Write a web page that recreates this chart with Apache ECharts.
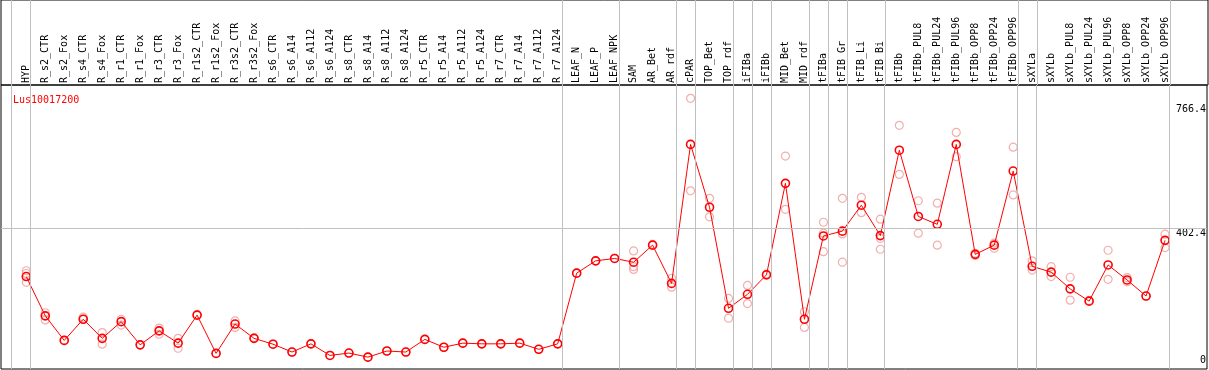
<!DOCTYPE html>
<html>
<head>
<meta charset="utf-8">
<script src="https://cdn.jsdelivr.net/npm/echarts@6/dist/echarts.min.js"></script>
<style>
html,body{margin:0;padding:0;background:#fff;}
#c{width:1209px;height:370px;}
</style>
</head>
<body>
<div id="c"></div>
<script>
const categories = ["HYP","R_s2_CTR","R_s2_Fox","R_s4_CTR","R_s4_Fox","R_r1_CTR","R_r1_Fox","R_r3_CTR","R_r3_Fox","R_r1s2_CTR","R_r1s2_Fox","R_r3s2_CTR","R_r3s2_Fox","R_s6_CTR","R_s6_A14","R_s6_A112","R_s6_A124","R_s8_CTR","R_s8_A14","R_s8_A112","R_s8_A124","R_r5_CTR","R_r5_A14","R_r5_A112","R_r5_A124","R_r7_CTR","R_r7_A14","R_r7_A112","R_r7_A124","LEAF_N","LEAF_P","LEAF_NPK","SAM","AR_Bet","AR_rdf","cPAR","TOP_Bet","TOP_rdf","iFIBa","iFIBb","MID_Bet","MID_rdf","tFIBa","tFIB_Gr","tFIB_Li","tFIB_Bi","tFIBb","tFIBb_PUL8","tFIBb_PUL24","tFIBb_PUL96","tFIBb_OPP8","tFIBb_OPP24","tFIBb_OPP96","sXYLa","sXYLb","sXYLb_PUL8","sXYLb_PUL24","sXYLb_PUL96","sXYLb_OPP8","sXYLb_OPP24","sXYLb_OPP96"];

const meanValues = [261,146,74,136,80,129,61,102,66,148,36,122,80,63,40,64,30,37,25,43,40,77,54,66,64,64,66,48,64,271,307,314,303,353,241,648,464,168,209,266,534,136,380,394,470,381,631,437,414,648,326,353,570,291,274,225,189,295,251,204,367];

const replicates = [
  [278,270,244],[155,134],[74],[142,136],[97,63],[136,119],[61],[110,92],[80,51],[150],
  [36],[131,112],[82],[63],[40],[64],[30],[37],[25],[43],
  [40],[77],[54],[66],[64],[64],[66],[48],[64],[271],
  [307],[314],[336,290,282],[355],[256,230],[783,512],[490,436],[197,139],[235,182],[268],
  [614,458],[158,112],[420,388,334],[490,386,303],[493,448],[429,373,341],[704,560],[483,388],[476,353],[683,612],
  [329,323],[359,344],[640,500],[307,280],[290,261],[259,192],[191],[338,253],[258,246],[204],
  [385,346]
];

const groupEnds = [-1,0,28,31,34,35,37,38,39,41,42,43,45,52,53,60];
const yTickValues = [0, 402.4, 766.4];
const gridLineValue = 402.4;
const geneName = "Lus10017200";

const X_MIN = -1.332, X_MAX = 62.211;
const Y_MIN = -9.7, Y_MAX = 822;
const SEP_OFFSET = 0.23;
const FONT = "DejaVu Sans Mono";

const meanData = meanValues.map((v,i)=>[i,v]);
const repData = [];
replicates.forEach((arr,i)=>arr.forEach(v=>repData.push([i,v])));
const vLines = groupEnds.map(g=>({xAxis: g + SEP_OFFSET}));
const xTicks = categories.map((c,i)=>i);

const chart = echarts.init(document.getElementById('c'), null, {renderer:'canvas'});
chart.setOption({
  animation:false,
  backgroundColor:'#fff',
  title:{text:geneName,left:8,top:90,textStyle:{color:'#ff0000',fontSize:10,fontFamily:FONT,fontWeight:'normal'}},
  grid:[
    {left:1,right:1,top:0,height:85,show:true,borderColor:'#000',borderWidth:1,backgroundColor:'transparent'},
    {left:1,right:1,top:85,bottom:1,show:true,borderColor:'#000',borderWidth:1,backgroundColor:'transparent'}
  ],
  xAxis:[
    {type:'value',gridIndex:1,min:X_MIN,max:X_MAX,position:'top',
     axisLine:{show:false},axisTick:{show:false},splitLine:{show:false},
     axisLabel:{customValues:xTicks,rotate:90,margin:2,color:'#000',fontSize:10,fontFamily:FONT,
       formatter:v=>categories[Math.round(v)]||''}},
    {type:'value',gridIndex:0,min:X_MIN,max:X_MAX,show:false}
  ],
  yAxis:[
    {type:'value',gridIndex:1,min:Y_MIN,max:Y_MAX,position:'right',
     axisLine:{show:false},axisTick:{show:false},splitLine:{show:false},
     axisLabel:{customValues:yTickValues,inside:true,margin:1,color:'#000',fontSize:10,fontFamily:FONT,
       formatter:v=> v===0 ? '{b|'+v+'}' : '{t|'+v+'}',
       rich:{t:{padding:[11,0,0,0],fontSize:10,fontFamily:FONT,color:'#000'},b:{padding:[0,0,11,0],fontSize:10,fontFamily:FONT,color:'#000'}}}},
    {type:'value',gridIndex:0,min:0,max:1,show:false}
  ],
  series:[
    {type:'line',xAxisIndex:1,yAxisIndex:1,data:[],silent:true,
     markLine:{silent:true,symbol:['none','none'],label:{show:false},
       lineStyle:{color:'#c0c0c0',width:1,type:'solid'},data:vLines}},
    {type:'line',xAxisIndex:0,yAxisIndex:0,data:[],silent:true,z:1,
     markLine:{silent:true,symbol:['none','none'],label:{show:false},
       lineStyle:{color:'#c0c0c0',width:1,type:'solid'},
       data:vLines.concat([{yAxis:gridLineValue}])}},
    {type:'scatter',xAxisIndex:0,yAxisIndex:0,data:repData,symbol:'circle',symbolSize:8,z:2,
     itemStyle:{color:'rgba(0,0,0,0)',borderColor:'#f09a9a',borderWidth:1.2}},
    {type:'line',xAxisIndex:0,yAxisIndex:0,data:meanData,symbol:'circle',symbolSize:8,z:3,
     lineStyle:{color:'#ff0000',width:1},
     itemStyle:{color:'rgba(0,0,0,0)',borderColor:'#ff0000',borderWidth:1.6}}
  ]
});
</script>
</body>
</html>
